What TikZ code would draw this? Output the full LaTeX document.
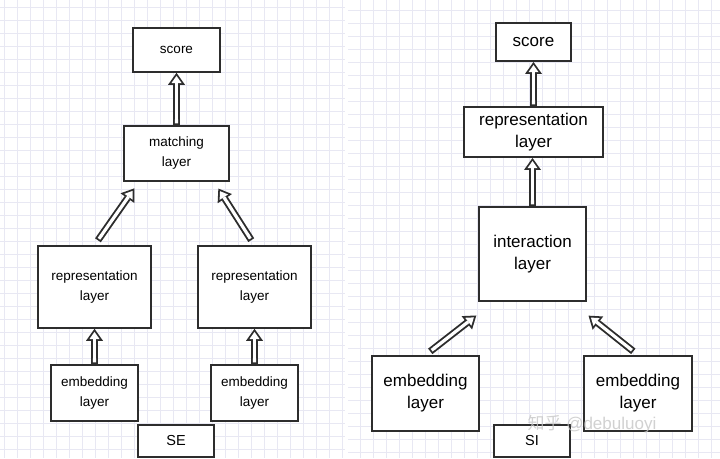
\documentclass[tikz,border=0pt]{standalone}
\usepackage{fontspec}
\setmainfont{Liberation Sans}
\newfontfamily\cjk{Noto Sans CJK SC}
\usetikzlibrary{arrows.meta}
\definecolor{gridc}{RGB}{232,232,243}
\definecolor{boxc}{RGB}{45,45,45}

\begin{document}
\begin{tikzpicture}
  [x=1pt,y=-1pt,
   box/.style={rectangle,draw=boxc,line width=1.6pt,fill=white,inner sep=0pt,align=center,
     font=\fontsize{13.5}{20}\selectfont},
   bigbox/.style={box,line width=1.9pt,font=\fontsize{17}{22}\selectfont},
   tag/.style={box,line width=1.6pt,font=\fontsize{14.5}{16}\selectfont},
   arr/.style={draw=boxc,line width=7pt,-{Triangle[length=12pt,width=17pt,line width=0pt]},
     postaction={draw=white,line width=3.2pt,
       {Butt Cap[sep=1.8pt]}-{Triangle[length=7.1pt,width=10pt,line width=0pt,sep=3.1pt]}}},
   gridline/.style={draw=gridc,line width=0.6pt}]
  \useasboundingbox (0,0) rectangle (720,458);
  \fill[white] (0,0) rectangle (720,458);

  \foreach \i in {4,17,...,345}
    \draw[gridline] (\i,0) -- (\i,458);
  \foreach \j in {7,20,...,458}
    \draw[gridline] (0,\j) -- (345,\j);
  \foreach \i in {360,373,...,720}
    \draw[gridline] (\i,0) -- (\i,458);
  \foreach \j in {10,23,...,458}
    \draw[gridline] (348,\j) -- (720,\j);

  \node[box,minimum width=87pt,minimum height=44pt] (score) at (176.5,50) {score};
  \node[box,minimum width=105pt,minimum height=55pt] (match) at (176.5,153.5) {matching\\layer};
  \node[box,minimum width=113pt,minimum height=82pt] (repl) at (94.5,287) {representation\\layer};
  \node[box,minimum width=113pt,minimum height=82pt] (repr) at (254.5,287) {representation\\layer};
  \node[box,minimum width=87pt,minimum height=56pt] (embl) at (94.5,393) {embedding\\layer};
  \node[box,minimum width=87pt,minimum height=56pt] (embr) at (254.5,393) {embedding\\layer};
  \node[tag,minimum width=76pt,minimum height=32pt] (se) at (176,441) {SE};

  \node[bigbox,minimum width=75pt,minimum height=38pt] (score2) at (533.5,42) {score};
  \node[bigbox,minimum width=139pt,minimum height=50pt] (rep2) at (533.5,132) {representation\\layer};
  \node[bigbox,minimum width=107pt,minimum height=94pt] (inter) at (532.5,254) {interaction\\layer};
  \node[bigbox,minimum width=107pt,minimum height=75pt] (emb2l) at (425.5,393.5) {embedding\\layer};
  \node[bigbox,minimum width=108pt,minimum height=75pt] (emb2r) at (638,393.5) {embedding\\layer};
  \node[tag,minimum width=76pt,minimum height=32pt] (si) at (532,441) {SI};

  \foreach \from/\to in {match/score,embl/repl,embr/repr,rep2/score2,inter/rep2}
    \draw[arr] (\from.north) -- (\from.north |- \to.south);

  \draw[arr,shorten <=6pt,shorten >=8pt] (repl.north) -- (match.217);
  \draw[arr,shorten <=6pt,shorten >=8pt] (repr.north) -- (match.323);
  \draw[arr,shorten <=6pt,shorten >=22pt] (emb2l.north) -- (inter.231);
  \draw[arr,shorten <=6pt,shorten >=22pt] (emb2r.north) -- (inter.309);

  \node[text=gray!45,opacity=0.8,font=\fontsize{17}{17}\selectfont,anchor=west] (mark) at (524,424) {{\cjk 知乎} @debuluoyi};
\end{tikzpicture}
\end{document}
